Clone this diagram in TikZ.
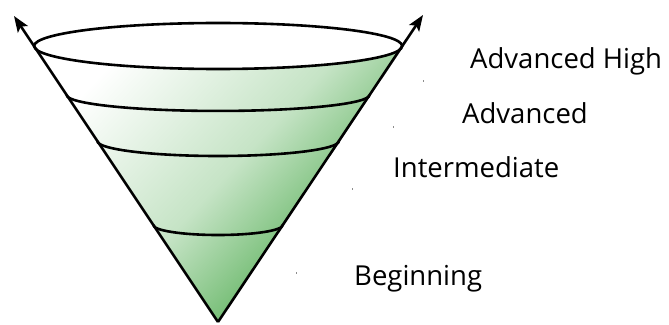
\documentclass[tikz,border=0pt]{standalone}
\usepackage{fontspec}
\setmainfont{Open Sans}
\usetikzlibrary{arrows.meta,calc}
\definecolor{conegreen}{HTML}{40A440}
\tikzset{
  coneline/.style={line width=2.6pt, black},
  bandline/.style={line width=2.6pt, black},
  lbl/.style={anchor=base west, inner sep=0pt, font=\fontsize{27.5}{30}\selectfont},
  speck/.style={line width=1pt, black!45},
}
\begin{document}
\begin{tikzpicture}[x=1pt,y=-1pt]
\useasboundingbox (0,0) rectangle (669,324);
\coordinate (apex) at (218,322);
\coordinate (tipL) at (14,16);
\coordinate (tipR) at (423,15);
% rim and band points on the cone sides
\coordinate (l0) at ($(apex)!0.902!(tipL)$);
\coordinate (r0) at ($(apex)!0.899!(tipR)$);
\coordinate (l1) at ($(apex)!0.742!(tipL)$);
\coordinate (r1) at ($(apex)!0.739!(tipR)$);
\coordinate (l2) at ($(apex)!0.5915!(tipL)$);
\coordinate (r2) at ($(apex)!0.5896!(tipR)$);
\coordinate (l3) at ($(apex)!0.317!(tipL)$);
\coordinate (r3) at ($(apex)!0.316!(tipR)$);
% gradient body
\shade[top color=white, bottom color=conegreen, middle color=conegreen!30, shading angle=47]
  (l0) arc[start angle=180, end angle=0, x radius=184, y radius=23] -- (apex) -- cycle;
% top rim ellipse
\draw[bandline] ($(l0)!0.5!(r0)$) ellipse[x radius=184, y radius=23];
% band arcs
\draw[bandline] (l1) arc[start angle=180, end angle=0, x radius=151.4, y radius=16];
\draw[bandline] (l2) arc[start angle=180, end angle=0, x radius=120.8, y radius=15];
\draw[bandline] (l3) arc[start angle=180, end angle=0, x radius=64.7, y radius=10];
% cone sides with arrows
\draw[coneline, -{Stealth[length=16pt, width=12pt, inset=3.5pt]}] (apex) -- (tipL);
\draw[coneline, -{Stealth[length=16pt, width=12pt, inset=3.5pt]}] (apex) -- (tipR);
% labels
\node[lbl] (ah) at (470,68) {Advanced High};
\node[lbl] (adv) at (462,123) {Advanced};
\node[lbl] (int) at (393,177) {Intermediate};
\node[lbl] (beg) at (354,285) {Beginning};
% tiny specks
\draw[speck] (423,80) -- (423,82);
\draw[speck] (393,126) -- (393,128);
\draw[speck] (352,188) -- (352,190);
\draw[speck] (296,272) -- (296,274);
\end{tikzpicture}
\end{document}
